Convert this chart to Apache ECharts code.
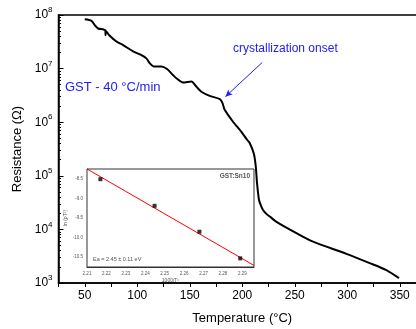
<!DOCTYPE html>
<html>
<head>
<meta charset="utf-8">
<script src="https://cdn.jsdelivr.net/npm/echarts@6/dist/echarts.min.js"></script>
<style>html,body{margin:0;padding:0;background:#fff}#c{width:416px;height:329px}</style>
</head>
<body>
<div id="c"></div>
<script>
// Main curve: temperature (°C) vs resistance (Ω)
var temperature = [50,56.4,59.5,62.7,67.5,69.6,69.8,70.0,73.8,80.2,86.5,96,104,108.7,111.9,115.7,123,128.4,134,137.3,143.6,151.6,156.3,161.1,169,178.6,181.1,183.3,191.2,199.2,204.6,207.1,211,212.9,214.1,216,217.9,219.8,223,226.2,232.6,251.6,267.4,299.2,321.4,337.3,349.3];
var resistance = [8.3e7,7.8e7,6.5e7,5.6e7,5.4e7,5.2e7,4.2e7,5.1e7,4.1e7,3.2e7,2.75e7,2.1e7,1.78e7,1.55e7,1.26e7,1.1e7,1.1e7,9.8e6,7.6e6,6.6e6,5.5e6,5.75e6,4.6e6,3.7e6,3.1e6,2.7e6,2.3e6,1.7e6,1.02e6,6.6e5,4.7e5,4.1e5,2.6e5,1.48e5,7.2e4,3.5e4,2.75e4,2.3e4,1.95e4,1.74e4,1.38e4,8.5e3,5.9e3,3.5e3,2.35e3,1.74e3,1.23e3];
var xTickLabels = [50,100,150,200,250,300,350];
var yMinorTicks = [2e3,3e3,4e3,5e3,6e3,7e3,8e3,9e3,2e4,3e4,4e4,5e4,6e4,7e4,8e4,9e4,2e5,3e5,4e5,5e5,6e5,7e5,8e5,9e5,2e6,3e6,4e6,5e6,6e6,7e6,8e6,9e6,2e7,3e7,4e7,5e7,6e7,7e7,8e7,9e7];
// Annotation arrow (data coords)
var arrowFrom = [219, 1.3e7];
var arrowTo = [184, 3.0e6];
// Inset: Arrhenius plot
var invT = [2.2169, 2.2448, 2.2679, 2.2889];
var lnRho = [-8.51, -9.19, -9.85, -10.53];
var fitX = [2.21, 2.296];
var fitY = [-8.25, -10.71];
var insetXTicks = [2.21,2.22,2.23,2.24,2.25,2.26,2.27,2.28,2.29];
var insetYTicks = [-10.5,-10.0,-9.5,-9.0,-8.5];

var FONT = 'Liberation Sans, Arial, sans-serif';
var chart = echarts.init(document.getElementById('c'), null, {renderer:'canvas'});

function pairs(a,b){ return a.map(function(v,i){return [v,b[i]];}); }

var option = {
  animation: false,
  backgroundColor: '#fff',
  textStyle: {fontFamily: FONT},
  grid: [
    {left: 58.5, top: 15, right: -10, bottom: 46, show: true, borderColor: '#000', borderWidth: 1.5, outerBoundsMode: 'none', containLabel: false},
    {left: 87, top: 169, width: 167, height: 98, show: true, borderColor: '#333', borderWidth: 1, backgroundColor: '#fff', z: 5, outerBoundsMode: 'none', containLabel: false}
  ],
  xAxis: [
    {type: 'value', gridIndex: 0, min: 25, max: 375, interval: 25,
     axisLine: {show: true, lineStyle: {color: '#000', width: 1.5}},
     axisTick: {show: true, inside: false, length: 4, lineStyle: {color: '#000'}},
     axisLabel: {color: '#000', fontSize: 12, fontFamily: FONT, margin: 7,
       formatter: function(v){ return xTickLabels.indexOf(v) >= 0 ? String(v) : ''; }},
     splitLine: {show: false},
     name: 'Temperature (°C)', nameLocation: 'middle', nameGap: 29,
     nameTextStyle: {color: '#000', fontSize: 13, fontFamily: FONT}},
    {type: 'value', gridIndex: 1, min: 2.21, max: 2.296,
     axisLine: {show: true, lineStyle: {color: '#333', width: 1}},
     axisTick: {show: true, inside: true, length: 2, customValues: insetXTicks, lineStyle: {color: '#333', width: 0.8}},
     axisLabel: {color: '#555', fontSize: 4.5, fontFamily: FONT, margin: 4, customValues: insetXTicks,
       formatter: function(v){ return v.toFixed(2); }},
     splitLine: {show: false},
     name: '{a|1000/T}{b|c}', nameLocation: 'middle', nameGap: 11,
     nameTextStyle: {color: '#555', fontFamily: FONT, rich: {a: {fontSize: 5, color: '#555', fontFamily: FONT}, b: {fontSize: 3.5, color: '#555', fontFamily: FONT}}}},
  ],
  yAxis: [
    {type: 'log', gridIndex: 0, min: 1e3, max: 1e8, logBase: 10, interval: 1,
     axisLine: {show: true, lineStyle: {color: '#000', width: 1.5}},
     axisTick: {show: true, inside: true, length: 5, lineStyle: {color: '#000'}},
     axisLabel: {margin: 6, fontFamily: FONT,
       formatter: function(v){ return '{b|10}{s|' + Math.round(Math.log10(v)) + '}'; },
       rich: {b: {fontSize: 12, color: '#000', lineHeight: 18, fontFamily: FONT},
              s: {fontSize: 8, color: '#000', verticalAlign: 'top', fontFamily: FONT}}},
     splitLine: {show: false},
     name: 'Resistance (Ω)', nameLocation: 'middle', nameGap: 28,
     nameTextStyle: {color: '#000', fontSize: 13, fontFamily: FONT}},
    {type: 'log', gridIndex: 0, min: 1e3, max: 1e8, logBase: 10, position: 'left',
     axisLine: {show: false},
     axisTick: {show: true, inside: true, length: 2.5, customValues: yMinorTicks, lineStyle: {color: '#000'}},
     axisLabel: {show: false},
     splitLine: {show: false}},
    {type: 'value', gridIndex: 1, min: -10.75, max: -8.25,
     axisLine: {show: true, lineStyle: {color: '#333', width: 1}},
     axisTick: {show: true, inside: true, length: 2, customValues: insetYTicks, lineStyle: {color: '#333', width: 0.8}},
     axisLabel: {color: '#555', fontSize: 4.5, fontFamily: FONT, margin: 4, customValues: insetYTicks,
       formatter: function(v){ return v.toFixed(1); }},
     splitLine: {show: false},
     name: 'ln (ρT²)', nameLocation: 'middle', nameGap: 19,
     nameTextStyle: {color: '#555', fontSize: 5, fontFamily: FONT}}
  ],
  series: [
    {type: 'line', xAxisIndex: 0, yAxisIndex: 0, data: pairs(temperature, resistance),
     showSymbol: false, smooth: 0.25, lineStyle: {color: '#000', width: 2}, z: 3,
     markLine: {silent: true, symbol: ['none', 'arrow'], symbolSize: [5, 7],
       lineStyle: {color: '#2020f0', width: 1, type: 'solid'}, label: {show: false},
       data: [[{coord: arrowFrom}, {coord: arrowTo}]]}},
    {type: 'line', xAxisIndex: 1, yAxisIndex: 2, data: pairs(fitX, fitY),
     showSymbol: false, lineStyle: {color: '#ff0000', width: 1}, z: 6},
    {type: 'scatter', xAxisIndex: 1, yAxisIndex: 2, data: pairs(invT, lnRho),
     symbol: 'rect', symbolSize: 4, itemStyle: {color: '#000'}, z: 7}
  ],
  graphic: [
    {type: 'text', left: 65, top: 81, z: 10, style: {text: 'GST - 40 °C/min', fill: '#2020f0', font: '13px ' + FONT}},
    {type: 'text', left: 233, top: 43, z: 10, style: {text: 'crystallization onset', fill: '#2020f0', font: '12px ' + FONT}},
    {type: 'text', right: 166, top: 173, z: 10, style: {text: 'GST:Sn10', fill: '#555', font: 'bold 6.5px ' + FONT}},
    {type: 'text', left: 93, top: 256, z: 10, style: {text: 'Ea = 2.45 ± 0.11 eV', fill: '#555', font: '5.5px ' + FONT}}
  ]
};
chart.setOption(option);
</script>
</body>
</html>
